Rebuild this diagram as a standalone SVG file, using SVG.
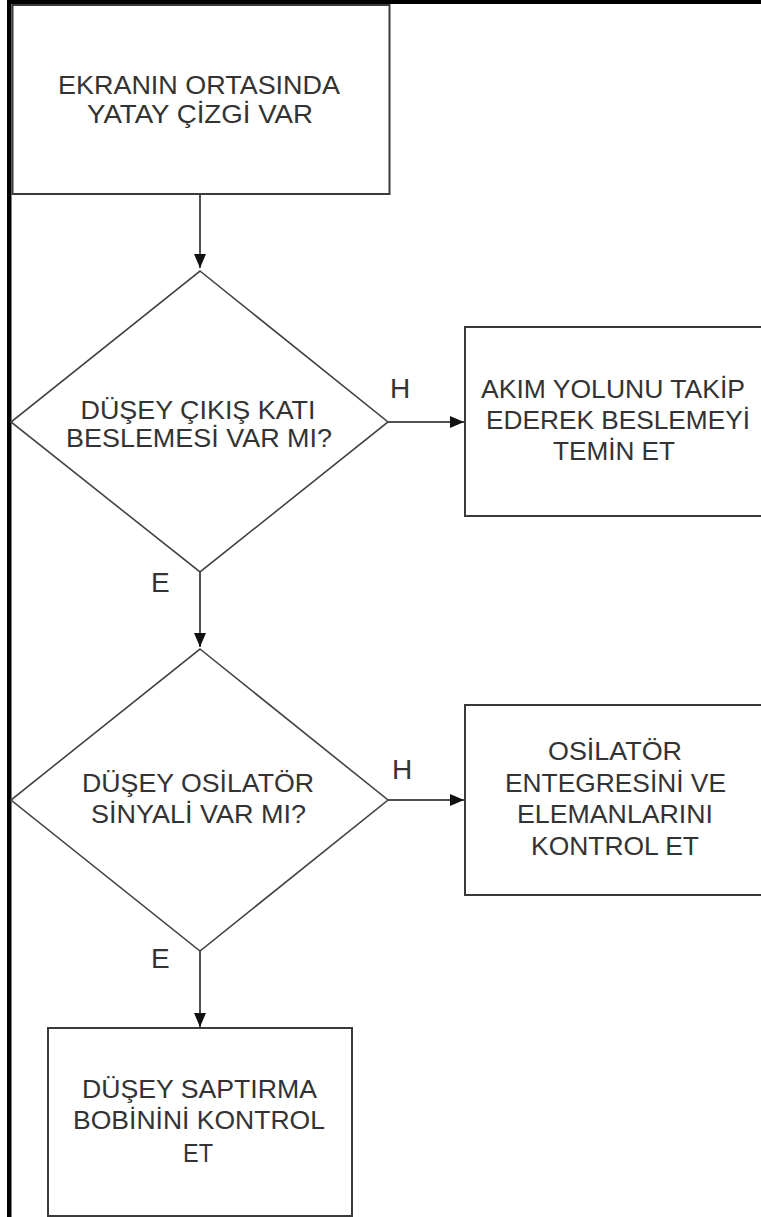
<svg xmlns="http://www.w3.org/2000/svg" width="761" height="1217" viewBox="0 0 761 1217">
<defs>
<style>
.box{fill:#fff;stroke:#3a3a3a;stroke-width:2}
.dia{fill:#fff;stroke:#444;stroke-width:1.6}
.t{font-family:"Liberation Sans",Arial,sans-serif;font-size:25px;fill:#333;text-anchor:middle}
.lbl{font-family:"Liberation Sans",Arial,sans-serif;font-size:28px;fill:#333}
.con{stroke:#505050;stroke-width:2;fill:none}
</style>
<marker id="ah" markerUnits="userSpaceOnUse" markerWidth="15" markerHeight="13" refX="14" refY="6" orient="auto">
<path d="M0,0 L14,6 L0,12 z" fill="#111"/>
</marker>
</defs>
<rect width="761" height="1217" fill="#fff"/>
<g id="frame">
<rect x="7" y="0" width="754" height="4" fill="#000"/>
<rect x="7" y="0" width="4.5" height="1217" fill="#000"/>
</g>
<g id="connectors">
<line class="con" x1="200" y1="194" x2="200" y2="268" marker-end="url(#ah)"/>
<line class="con" x1="388" y1="422" x2="464" y2="422" marker-end="url(#ah)"/>
<line class="con" x1="200" y1="572" x2="200" y2="647" marker-end="url(#ah)"/>
<line class="con" x1="388" y1="800" x2="464" y2="800" marker-end="url(#ah)"/>
<line class="con" x1="200" y1="951" x2="200" y2="1027" marker-end="url(#ah)"/>
<text class="lbl" x="390" y="398">H</text>
<text class="lbl" x="151" y="592">E</text>
<text class="lbl" x="392" y="779">H</text>
<text class="lbl" x="151" y="968">E</text>
</g>
<g id="start">
<rect class="box" x="12.5" y="5" width="377" height="189"/>
<text class="t" x="199" y="94" textLength="282" lengthAdjust="spacingAndGlyphs">EKRANIN ORTASINDA</text>
<text class="t" x="200" y="123" textLength="226" lengthAdjust="spacingAndGlyphs">YATAY ÇİZGİ VAR</text>
</g>
<g id="decision1">
<polygon class="dia" points="200,271 388,422 200,572 11,422"/>
<text class="t" x="198" y="419" textLength="235" lengthAdjust="spacingAndGlyphs">DÜŞEY ÇIKIŞ KATI</text>
<text class="t" x="199" y="447" textLength="266" lengthAdjust="spacingAndGlyphs">BESLEMESİ VAR MI?</text>
</g>
<g id="action1">
<rect class="box" x="465" y="327" width="310" height="189"/>
<text class="t" x="613" y="398" textLength="264" lengthAdjust="spacingAndGlyphs">AKIM YOLUNU TAKİP</text>
<text class="t" x="618" y="429" textLength="264" lengthAdjust="spacingAndGlyphs">EDEREK BESLEMEYİ</text>
<text class="t" x="614" y="460" textLength="122" lengthAdjust="spacingAndGlyphs">TEMİN ET</text>
</g>
<g id="decision2">
<polygon class="dia" points="200,649 388,800 200,951 11,800"/>
<text class="t" x="198" y="792" textLength="232" lengthAdjust="spacingAndGlyphs">DÜŞEY OSİLATÖR</text>
<text class="t" x="198.5" y="823" textLength="215" lengthAdjust="spacingAndGlyphs">SİNYALİ VAR MI?</text>
</g>
<g id="action2">
<rect class="box" x="465" y="705" width="310" height="190"/>
<text class="t" x="615" y="760" textLength="134" lengthAdjust="spacingAndGlyphs">OSİLATÖR</text>
<text class="t" x="615.5" y="792" textLength="221" lengthAdjust="spacingAndGlyphs">ENTEGRESİNİ VE</text>
<text class="t" x="615" y="823" textLength="196" lengthAdjust="spacingAndGlyphs">ELEMANLARINI</text>
<text class="t" x="615" y="855" textLength="168" lengthAdjust="spacingAndGlyphs">KONTROL ET</text>
</g>
<g id="action3">
<rect class="box" x="48" y="1028" width="304" height="188"/>
<text class="t" x="199.5" y="1098" textLength="235" lengthAdjust="spacingAndGlyphs">DÜŞEY SAPTIRMA</text>
<text class="t" x="199" y="1129" textLength="252" lengthAdjust="spacingAndGlyphs">BOBİNİNİ KONTROL</text>
<text class="t" x="198" y="1162" textLength="30" lengthAdjust="spacingAndGlyphs">ET</text>
</g>
</svg>
